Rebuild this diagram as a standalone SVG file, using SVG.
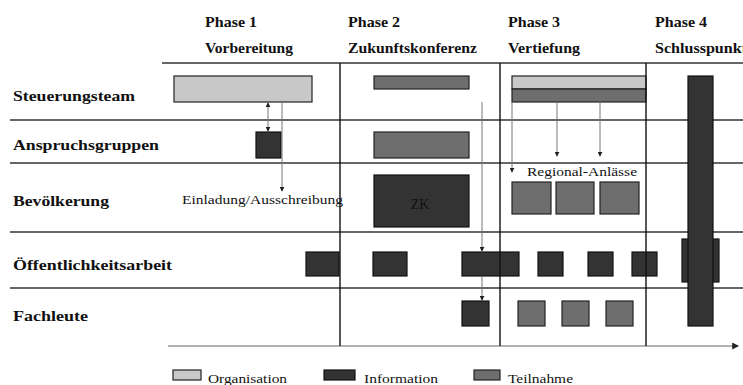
<svg xmlns="http://www.w3.org/2000/svg" width="743" height="385" viewBox="0 0 743 385">
<style>
text{font-family:"Liberation Serif","Times New Roman",serif;fill:#111}
.row{font-size:14px;font-weight:bold}
.hd{font-size:14px;font-weight:bold}
.sm{font-size:13px}
.org{fill:#c8c8c8;stroke:#222;stroke-width:1.2}
.inf{fill:#333;stroke:#111;stroke-width:1.2}
.tn{fill:#6e6e6e;stroke:#222;stroke-width:1.2}
.sep{stroke:#333;stroke-width:1.6}
.ph{stroke:#111;stroke-width:1.4}
.arr{stroke:#777;stroke-width:1;fill:none}
</style>
<defs>
<marker id="ah" viewBox="0 0 6 6" refX="5" refY="3" markerWidth="5" markerHeight="5" orient="auto"><path d="M0,0L6,3L0,6z" fill="#222"/></marker>
<marker id="as" viewBox="0 0 6 6" refX="1" refY="3" markerWidth="5" markerHeight="5" orient="auto"><path d="M6,0L0,3L6,6z" fill="#222"/></marker>
</defs>
<rect width="743" height="385" fill="#fff"/>

<g id="headers">
<text class="hd" x="205" y="27" textLength="52" lengthAdjust="spacingAndGlyphs">Phase 1</text>
<text class="hd" x="205" y="53" textLength="88" lengthAdjust="spacingAndGlyphs">Vorbereitung</text>
<text class="hd" x="348" y="27" textLength="52" lengthAdjust="spacingAndGlyphs">Phase 2</text>
<text class="hd" x="348" y="53" textLength="129" lengthAdjust="spacingAndGlyphs">Zukunftskonferenz</text>
<text class="hd" x="508" y="27" textLength="52" lengthAdjust="spacingAndGlyphs">Phase 3</text>
<text class="hd" x="508" y="53" textLength="72" lengthAdjust="spacingAndGlyphs">Vertiefung</text>
<text class="hd" x="655" y="27" textLength="52" lengthAdjust="spacingAndGlyphs">Phase 4</text>
<text class="hd" x="655" y="53" textLength="92" lengthAdjust="spacingAndGlyphs">Schlusspunkt</text>
</g>

<g id="rows">
<text class="row" x="13" y="101" textLength="122" lengthAdjust="spacingAndGlyphs">Steuerungsteam</text>
<text class="row" x="13" y="150" textLength="146" lengthAdjust="spacingAndGlyphs">Anspruchsgruppen</text>
<text class="row" x="13" y="206" textLength="96" lengthAdjust="spacingAndGlyphs">Bevölkerung</text>
<text class="row" x="13" y="270" textLength="159" lengthAdjust="spacingAndGlyphs">Öffentlichkeitsarbeit</text>
<text class="row" x="13" y="321" textLength="75" lengthAdjust="spacingAndGlyphs">Fachleute</text>
</g>

<g id="grid">
<line x1="162" y1="63" x2="743" y2="63" class="sep"/>
<line x1="10" y1="120" x2="743" y2="120" class="sep"/>
<line x1="10" y1="163" x2="743" y2="163" class="sep"/>
<line x1="10" y1="232" x2="743" y2="232" class="sep"/>
<line x1="10" y1="288" x2="743" y2="288" class="sep"/>
<line x1="168" y1="346" x2="738" y2="346" stroke="#999" stroke-width="1.4" marker-end="url(#ah)"/>
</g>

<g id="nodes">
<g id="st1"><rect class="org" x="174" y="76" width="138" height="26"/></g>
<g id="st2"><rect class="tn" x="374" y="76" width="95" height="13"/></g>
<g id="st3"><rect class="org" x="512" y="76" width="134" height="13"/><rect class="tn" x="512" y="89" width="134" height="13"/></g>
<g id="an1"><rect class="inf" x="256" y="132" width="25" height="26"/></g>
<g id="an2"><rect class="tn" x="374" y="132" width="95" height="26"/></g>
<g id="zk"><rect class="inf" x="374" y="175" width="95" height="52"/><text x="420" y="209" font-size="14" text-anchor="middle" fill="#1a1a1a">ZK</text></g>
<g id="reg">
<rect class="tn" x="512" y="182" width="39" height="32"/>
<rect class="tn" x="556" y="182" width="38" height="32"/>
<rect class="tn" x="600" y="182" width="39" height="32"/>
<text class="sm" x="527" y="176" textLength="110" lengthAdjust="spacingAndGlyphs">Regional-Anlässe</text>
</g>
<g id="oe">
<rect class="inf" x="306" y="252" width="33" height="24"/>
<rect class="inf" x="373" y="252" width="34" height="24"/>
<rect class="inf" x="462" y="252" width="57" height="24"/>
<rect class="inf" x="538" y="252" width="25" height="24"/>
<rect class="inf" x="588" y="252" width="25" height="24"/>
<rect class="inf" x="632" y="252" width="25" height="24"/>
<rect class="inf" x="682" y="239" width="37" height="43"/>
</g>
<g id="fach">
<rect class="inf" x="462" y="301" width="27" height="25"/>
<rect class="tn" x="518" y="301" width="27" height="25"/>
<rect class="tn" x="562" y="301" width="27" height="25"/>
<rect class="tn" x="606" y="301" width="27" height="25"/>
</g>
<g id="ph4"><rect class="inf" x="688" y="76" width="25" height="250"/></g>
<g id="einl"><text class="sm" x="182" y="204" textLength="161" lengthAdjust="spacingAndGlyphs">Einladung/Ausschreibung</text></g>
</g>

<g id="phases">
<line x1="340" y1="63" x2="340" y2="346" class="ph"/>
<line x1="500" y1="63" x2="500" y2="346" class="ph"/>
<line x1="646" y1="63" x2="646" y2="346" class="ph"/>
</g>

<g id="connectors">
<line x1="268" y1="103" x2="268" y2="131" class="arr" marker-start="url(#as)" marker-end="url(#ah)"/>
<line x1="282" y1="102" x2="282" y2="191" class="arr" marker-end="url(#ah)"/>
<line x1="482" y1="102" x2="482" y2="251" class="arr" marker-end="url(#ah)"/>
<line x1="482" y1="276" x2="482" y2="300" class="arr" marker-end="url(#ah)"/>
<line x1="512" y1="102" x2="512" y2="172" class="arr" marker-end="url(#ah)"/>
<line x1="557" y1="102" x2="557" y2="156" class="arr" marker-end="url(#ah)"/>
<line x1="600" y1="102" x2="600" y2="156" class="arr" marker-end="url(#ah)"/>
</g>

<g id="legend">
<rect class="org" x="173" y="370" width="28" height="10"/>
<text class="sm" x="208" y="383" textLength="79" lengthAdjust="spacingAndGlyphs">Organisation</text>
<rect class="inf" x="324" y="370" width="31" height="10"/>
<text class="sm" x="364" y="383" textLength="74" lengthAdjust="spacingAndGlyphs">Information</text>
<rect class="tn" x="474" y="370" width="26" height="10"/>
<text class="sm" x="508" y="383" textLength="65" lengthAdjust="spacingAndGlyphs">Teilnahme</text>
</g>
</svg>
